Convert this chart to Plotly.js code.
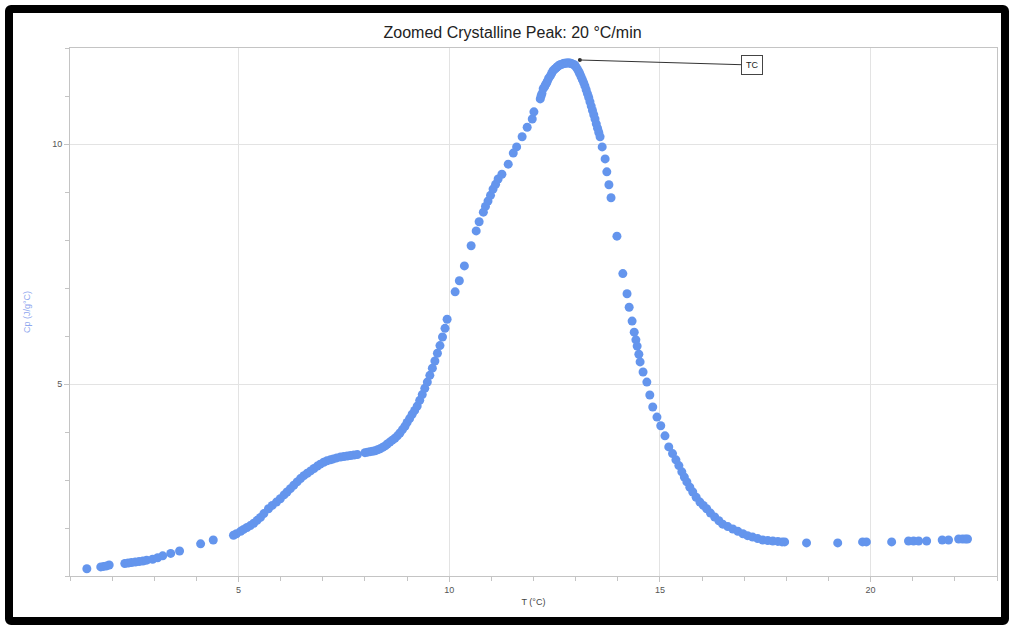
<!DOCTYPE html>
<html>
<head>
<meta charset="utf-8">
<script src="https://cdn.plot.ly/plotly-3.0.1.min.js"></script>
<style>
  html, body { margin: 0; padding: 0; background: #fff; }
  #wrap { position: relative; width: 1009px; height: 625px; overflow: hidden; }
  #chart { position: absolute; left: 0; top: 0; width: 1009px; height: 625px; }
  #frame { position: absolute; left: 5px; top: 5px; width: 1004px; height: 620px;
           border: 8px solid #000; border-radius: 6px;
           box-sizing: border-box; pointer-events: none; }
</style>
</head>
<body>
<div id="wrap">
  <div id="chart"></div>
  <div id="frame"></div>
</div>
<script>
const titleText = "Zoomed Crystalline Peak: 20 °C/min";
const xTitle = "T (°C)";
const yTitle = "Cp (J/g°C)";
const annotationLabel = "TC";
const peakT = 13.1;
const peakCp = 11.75;

const temperature = [
  1.40, 1.73, 1.80, 1.87, 1.93,
  2.30, 2.38, 2.46, 2.55, 2.64, 2.73, 2.82, 2.96, 3.08, 3.20, 3.39, 3.60,
  4.10, 4.40, 4.88,
  4.95, 5.05, 5.12, 5.20, 5.28, 5.36, 5.44, 5.52, 5.60, 5.71, 5.80, 5.90, 5.99, 6.08, 6.15, 6.23,
  6.31, 6.39, 6.47, 6.55, 6.63, 6.71, 6.79, 6.87, 6.94, 7.02, 7.10, 7.18, 7.25, 7.33, 7.42, 7.50,
  7.58, 7.66, 7.74, 7.82,
  8.00, 8.06, 8.12, 8.18, 8.24, 8.30, 8.36, 8.42, 8.48, 8.53, 8.59, 8.65, 8.71, 8.77, 8.83, 8.89,
  8.95, 9.00, 9.06, 9.12, 9.18, 9.24, 9.30, 9.36, 9.42, 9.48, 9.54, 9.60, 9.66, 9.72, 9.78, 9.84,
  9.90, 9.95,
  10.14, 10.24, 10.36, 10.52, 10.64, 10.71, 10.81, 10.86, 10.92, 10.98, 11.04, 11.10, 11.16, 11.25,
  11.40, 11.52, 11.60, 11.73, 11.85, 11.97, 12.01, 12.16, 12.18, 12.20, 12.23, 12.26, 12.28, 12.31,
  12.33, 12.36, 12.40, 12.43, 12.46, 12.49, 12.52, 12.55, 12.58, 12.61, 12.63, 12.67, 12.70, 12.73,
  12.76, 12.79, 12.82, 12.85, 12.88, 12.91, 12.94, 12.97, 12.99, 13.02, 13.05, 13.08, 13.10, 13.13,
  13.16, 13.19, 13.22, 13.25, 13.28, 13.31, 13.34, 13.37, 13.40, 13.43, 13.46, 13.49, 13.52, 13.55,
  13.58, 13.63, 13.70, 13.74, 13.79, 13.84, 13.98, 14.12, 14.22, 14.27,
  14.34, 14.39, 14.43, 14.46, 14.50, 14.53, 14.60, 14.69, 14.76, 14.83, 14.93, 15.02, 15.12, 15.21,
  15.30, 15.38, 15.45, 15.52, 15.58, 15.64, 15.71, 15.78, 15.86, 15.95, 16.03, 16.11, 16.20, 16.30,
  16.40, 16.49, 16.61, 16.73, 16.85, 16.97, 17.08, 17.20, 17.32, 17.44, 17.56, 17.68, 17.80, 17.90,
  17.96, 18.48, 19.22, 19.81, 19.90, 20.50, 20.90, 21.02, 21.14, 21.33, 21.70, 21.85, 22.09, 22.18,
  22.25, 22.30
];
const heatCapacity = [
  1.15, 1.19, 1.20, 1.21, 1.23,
  1.26, 1.27, 1.28, 1.29, 1.30, 1.31, 1.33, 1.35, 1.38, 1.42, 1.47, 1.52,
  1.67, 1.75, 1.85,
  1.88, 1.93, 1.97, 2.01, 2.05, 2.10, 2.16, 2.22, 2.30, 2.40, 2.47, 2.54, 2.61, 2.69, 2.75, 2.82,
  2.89, 2.96, 3.03, 3.09, 3.14, 3.19, 3.24, 3.29, 3.33, 3.37, 3.40, 3.42, 3.44, 3.46, 3.48, 3.49,
  3.50, 3.51, 3.52, 3.53,
  3.57, 3.58, 3.59, 3.60, 3.61, 3.63, 3.65, 3.68, 3.71, 3.75, 3.79, 3.83, 3.87, 3.92, 3.98, 4.05,
  4.12, 4.20, 4.28, 4.37, 4.45, 4.54, 4.66, 4.78, 4.91, 5.04, 5.18, 5.33, 5.48, 5.64, 5.80, 5.98,
  6.16, 6.35,
  6.92, 7.15, 7.46, 7.88, 8.19, 8.38, 8.58, 8.70, 8.81, 8.93, 9.06, 9.16, 9.27, 9.37,
  9.58, 9.81, 9.94, 10.15, 10.35, 10.52, 10.67, 10.94, 11.00, 11.05, 11.15, 11.19, 11.23, 11.27,
  11.31, 11.37, 11.42, 11.47, 11.52, 11.55, 11.57, 11.60, 11.62, 11.64, 11.65, 11.66, 11.67, 11.68,
  11.68, 11.69, 11.69, 11.69, 11.68, 11.67, 11.66, 11.65, 11.63, 11.59, 11.55, 11.50, 11.46, 11.40,
  11.34, 11.28, 11.21, 11.13, 11.05, 10.97, 10.88, 10.79, 10.70, 10.61, 10.52, 10.42, 10.33, 10.24,
  10.15, 9.94, 9.69, 9.42, 9.15, 8.88, 8.08, 7.30, 6.88, 6.60,
  6.31, 6.08, 5.92, 5.79, 5.62, 5.46, 5.25, 5.04, 4.77, 4.52, 4.31, 4.13, 3.92, 3.69,
  3.55, 3.42, 3.30, 3.17, 3.06, 2.96, 2.85, 2.75, 2.64, 2.54, 2.47, 2.40, 2.31, 2.23,
  2.15, 2.08, 2.03, 1.98, 1.93, 1.88, 1.84, 1.81, 1.78, 1.75, 1.74, 1.73, 1.72, 1.71,
  1.71, 1.69, 1.69, 1.71, 1.71, 1.71, 1.73, 1.73, 1.73, 1.73, 1.75, 1.75, 1.77, 1.77,
  1.77, 1.77
];
const xTicks = [5, 10, 15, 20];
const yTicks = [5, 10];

const trace = {
  x: temperature,
  y: heatCapacity,
  type: 'scatter',
  mode: 'markers',
  marker: { color: '#6495ED', size: 9 },
  hoverinfo: 'x+y',
  showlegend: false
};

const axisCommon = {
  showline: true,
  linecolor: '#c4c4c4',
  linewidth: 1,
  mirror: true,
  showgrid: true,
  gridcolor: '#e3e3e3',
  gridwidth: 1,
  zeroline: false,
  ticks: 'outside',
  ticklen: 5,
  tickcolor: '#c4c4c4',
  tickfont: { family: 'Liberation Sans, Arial, sans-serif', size: 9, color: '#555' },
  minor: { ticks: 'outside', ticklen: 4, tickcolor: '#c4c4c4', dtick: 1, showgrid: false }
};

const layout = {
  width: 1009,
  height: 625,
  margin: { l: 70, r: 12, t: 48, b: 49 },
  paper_bgcolor: '#ffffff',
  plot_bgcolor: '#ffffff',
  title: {
    text: titleText,
    x: 0.508,
    xanchor: 'center',
    y: 0.948,
    yanchor: 'middle',
    font: { family: 'Liberation Sans, Arial, sans-serif', size: 16, color: '#222' }
  },
  xaxis: Object.assign({}, axisCommon, {
    range: [1, 23],
    tickmode: 'array',
    tickvals: xTicks,
    ticktext: xTicks.map(String),
    title: { text: xTitle, standoff: 4,
             font: { family: 'Liberation Sans, Arial, sans-serif', size: 9, color: '#444' } }
  }),
  yaxis: Object.assign({}, axisCommon, {
    range: [1, 12],
    tickmode: 'array',
    tickvals: yTicks,
    ticktext: yTicks.map(String),
    title: { text: yTitle, standoff: 20,
             font: { family: 'Liberation Sans, Arial, sans-serif', size: 9, color: '#8fa7ee' } }
  }),
  annotations: [{
    x: peakT, y: peakCp, xref: 'x', yref: 'y',
    text: annotationLabel,
    showarrow: true,
    arrowhead: 6,
    arrowsize: 1,
    arrowwidth: 1,
    arrowcolor: '#333',
    ax: 172, ay: 5,
    bgcolor: '#ffffff',
    bordercolor: '#444',
    borderwidth: 1,
    borderpad: 4,
    font: { family: 'Liberation Sans, Arial, sans-serif', size: 9, color: '#222' }
  }]
};

Plotly.newPlot('chart', [trace], layout, { displayModeBar: false, staticPlot: true });
</script>
</body>
</html>
